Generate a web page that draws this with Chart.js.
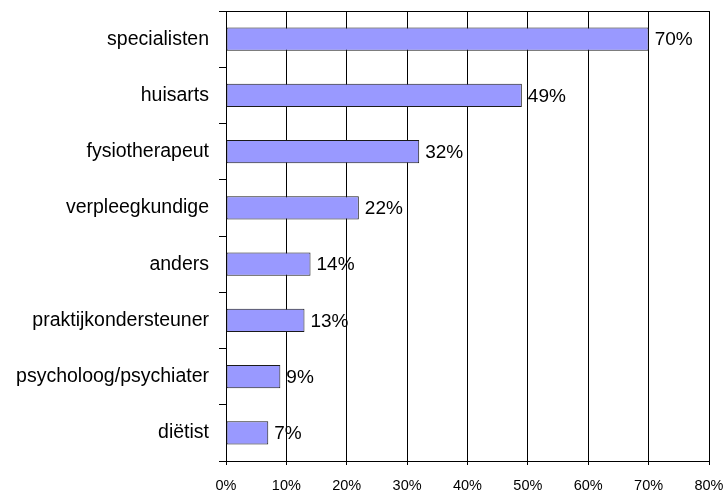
<!DOCTYPE html>
<html>
<head>
<meta charset="utf-8">
<script src="https://cdn.jsdelivr.net/npm/chart.js@4/dist/chart.umd.min.js"></script>
<style>
html,body{margin:0;padding:0;background:#fff;}
canvas{display:block;}
</style>
</head>
<body>
<canvas id="c" width="728" height="491"></canvas>
<script>
const categories = ["specialisten","huisarts","fysiotherapeut","verpleegkundige","anders","praktijkondersteuner","psycholoog/psychiater","diëtist"];
const values = [70,49,32,22,14,13,9,7];
const xTicks = [0,10,20,30,40,50,60,70,80];

const FONT = "'Liberation Sans', Arial, sans-serif";

const topLine = {
  id: 'topLine',
  afterDraw(chart) {
    const ca = chart.chartArea, ctx = chart.ctx;
    ctx.save();
    ctx.strokeStyle = '#000';
    ctx.lineWidth = 1;
    ctx.beginPath();
    ctx.moveTo(ca.left, Math.round(ca.top) + 0.5);
    ctx.lineTo(ca.right, Math.round(ca.top) + 0.5);
    ctx.stroke();
    ctx.restore();
  }
};

const valueLabels = {
  id: 'valueLabels',
  afterDatasetsDraw(chart) {
    const ctx = chart.ctx;
    const meta = chart.getDatasetMeta(0);
    ctx.save();
    ctx.font = "19px " + FONT;
    ctx.fillStyle = '#000';
    ctx.textAlign = 'left';
    ctx.textBaseline = 'middle';
    meta.data.forEach((bar, i) => {
      ctx.fillText(values[i] + '%', bar.x + 6, bar.y + 1);
    });
    ctx.restore();
  }
};

new Chart(document.getElementById('c'), {
  type: 'bar',
  data: {
    labels: categories,
    datasets: [{
      data: values,
      backgroundColor: '#9999FF',
      borderColor: '#1a1a1a',
      borderWidth: 1,
      borderSkipped: false,
      categoryPercentage: 1,
      barPercentage: 0.41
    }]
  },
  options: {
    indexAxis: 'y',
    responsive: false,
    animation: false,
    devicePixelRatio: 1,
    layout: { padding: { top: 11, right: 19, left: 0, bottom: 0 } },
    plugins: { legend: { display: false }, tooltip: { enabled: false } },
    scales: {
      x: {
        min: 0, max: 80,
        afterBuildTicks(scale) { scale.ticks = xTicks.map(v => ({ value: v })); },
        afterFit(scale) { scale.height = 30; scale.paddingLeft = 0; scale.paddingRight = 0; },
        ticks: {
          callback: v => v + '%',
          color: '#000',
          font: { family: FONT, size: 14.5 },
          padding: 12,
          maxRotation: 0
        },
        grid: { color: '#000', lineWidth: 1, tickLength: 4 },
        border: { color: '#000', width: 1 }
      },
      y: {
        afterFit(scale) { scale.width = 226; scale.paddingTop = 0; scale.paddingBottom = 0; },
        ticks: {
          color: '#000',
          font: { family: FONT, size: 19.5 },
          padding: 10
        },
        grid: { drawOnChartArea: false, color: '#000', tickLength: 7, offset: true },
        border: { color: '#000', width: 1 }
      }
    }
  },
  plugins: [topLine, valueLabels]
});
</script>
</body>
</html>
